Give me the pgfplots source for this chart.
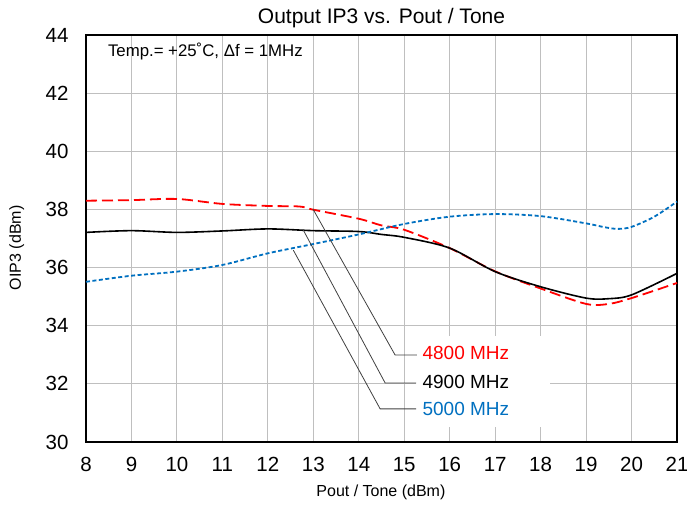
\documentclass[border=0pt]{standalone}
\usepackage{fontspec}
\setmainfont{Liberation Sans}
\usepackage{pgfplots}
\pgfplotsset{compat=1.18}

\definecolor{cred}{RGB}{255,0,0}
\definecolor{cblue}{RGB}{0,112,192}

\begin{document}
\begin{tikzpicture}
\begin{axis}[
    name=ax,
    scale only axis,
    width=591pt, height=407pt,
    xmin=8, xmax=21, ymin=30, ymax=44,
    xtick={8,...,21}, ytick={30,32,...,44},
    grid=major,
    major grid style={gray!50, line width=0.9pt},
    axis line style={black, line width=1.1pt},
    tick style={draw=none},
    /pgf/number format/assume math mode=true,
    ticklabel style={font=\fontsize{20.5}{24}\selectfont},
    xticklabel style={yshift=-12pt},
    yticklabel style={xshift=-14pt},
    title={Output IP3 vs. Pout / Tone},
    title style={font=\fontsize{21}{25}\selectfont, at={(0.5,1)}, anchor=south, yshift=-2pt},
    xlabel={Pout / Tone (dBm)},
    xlabel style={font=\fontsize{16}{19}\selectfont, at={(axis description cs:0.499,-0.123)}, anchor=center},
    ylabel={OIP3 (dBm)},
    ylabel style={font=\fontsize{16}{19}\selectfont, at={(axis description cs:-0.117,0.477)}, anchor=center},
    clip=false,
]
% white box behind the curve labels
\fill[white] (15.25,30.52) rectangle (18.2,33.65);

% 4800 MHz
\addplot[cred, line width=1.8pt, dash pattern=on 11pt off 5pt, smooth, tension=0.5] coordinates {
    (8,38.30) (9,38.32) (10,38.36) (11,38.19) (12,38.12) (12.7,38.10) (13,37.99)
    (14,37.68) (14.5,37.45) (15,37.30) (16,36.67) (17,35.87) (18,35.28)
    (19,34.75) (19.5,34.75) (20,34.95) (21,35.47)
};
% 4900 MHz
\addplot[black, line width=1.6pt, smooth, tension=0.5] coordinates {
    (8,37.21) (9,37.27) (10,37.21) (11,37.26) (12,37.33) (13,37.27) (14,37.24)
    (14.5,37.14) (15,37.04) (16,36.67) (17,35.86) (18,35.34) (19,34.95)
    (19.5,34.93) (20,35.06) (21,35.80)
};
% 5000 MHz
\addplot[cblue, line width=1.8pt, dash pattern=on 4pt off 2.5pt, smooth, tension=0.5] coordinates {
    (8,35.51) (9,35.72) (10,35.86) (11,36.09) (12,36.49) (13,36.81) (14,37.14)
    (15,37.50) (16,37.75) (17,37.84) (18,37.77) (19,37.52) (19.4,37.39)
    (19.7,37.33) (20,37.40) (20.5,37.75) (21,38.27)
};

% leader lines
\draw[black!75, line width=0.8pt] (12.99,38.02) -- (14.80,32.99) -- (15.28,32.99);
\draw[black!75, line width=0.8pt] (12.78,37.29) -- (14.58,32.03) -- (15.26,32.03);
\draw[black!75, line width=0.8pt] (12.56,36.60) -- (14.47,31.14) -- (15.26,31.14);

\node[anchor=west, inner sep=0pt, text=cred, font=\fontsize{19}{23}\selectfont] at (15.40,33.07) {4800 MHz};
\node[anchor=west, inner sep=0pt, text=black, font=\fontsize{19}{23}\selectfont] at (15.40,32.07) {4900 MHz};
\node[anchor=west, inner sep=0pt, text=cblue, font=\fontsize{19}{23}\selectfont] at (15.40,31.12) {5000 MHz};

\node[anchor=west, inner sep=0pt, font=\fontsize{16.8}{20}\selectfont] at (8.48,43.42) {Temp.= +25˚C, Δf = 1MHz};
\end{axis}
\pgfresetboundingbox
\useasboundingbox ([shift={(-86pt,-64pt)}]ax.south west) rectangle ([shift={(10pt,35pt)}]ax.north east);
\end{tikzpicture}
\end{document}
